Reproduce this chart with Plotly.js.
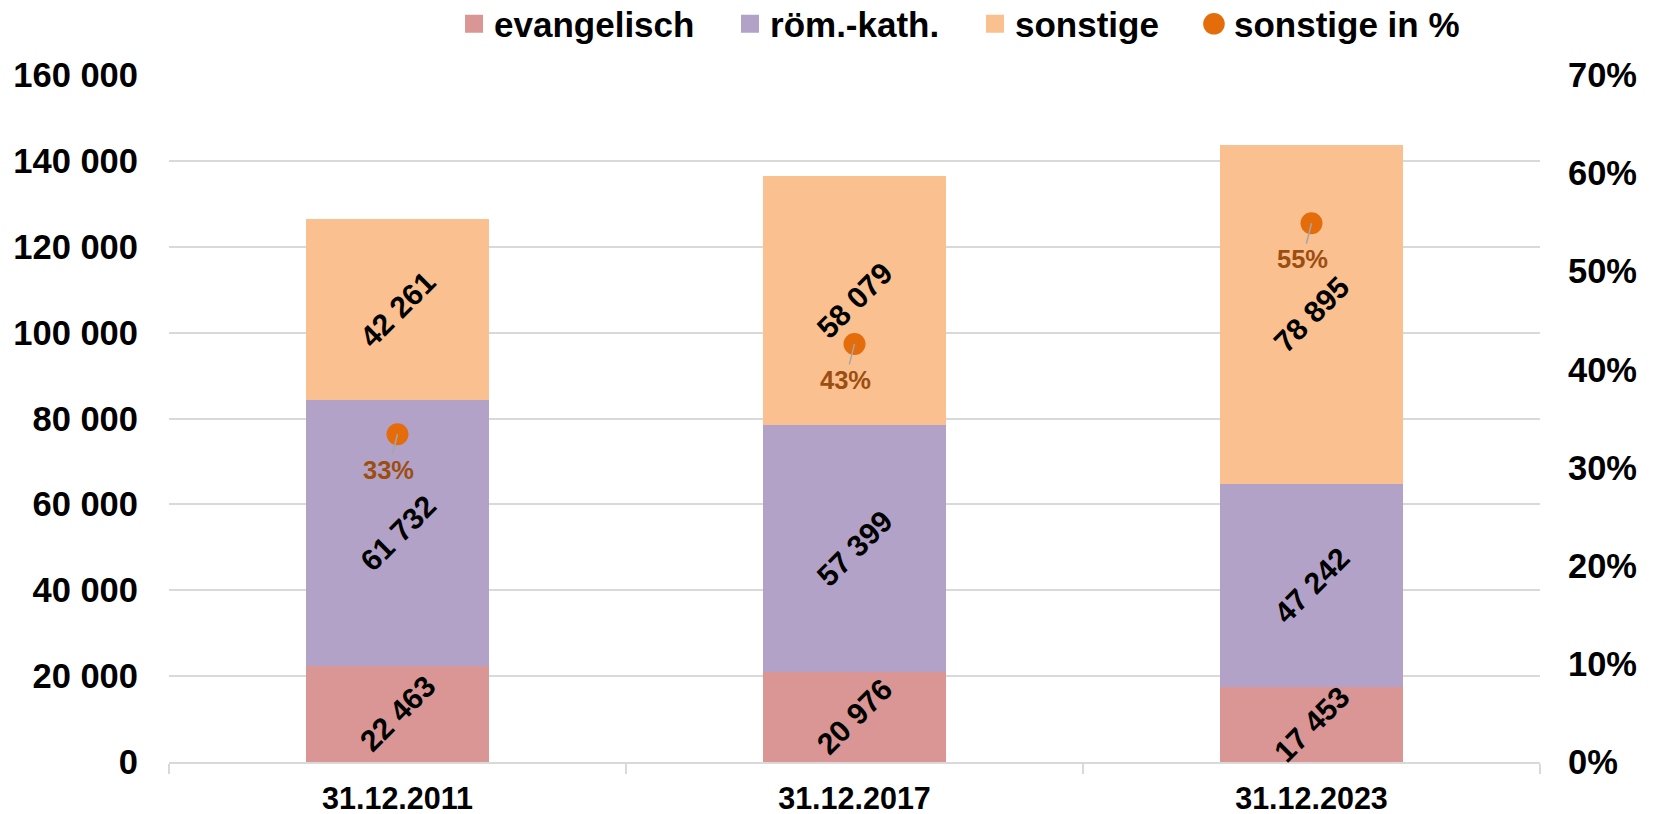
<!DOCTYPE html>
<html>
<head>
<meta charset="utf-8">
<script src="https://cdn.plot.ly/plotly-3.0.1.min.js"></script>
<style>html,body{margin:0;padding:0;background:#fff;}#chart{width:1654px;height:814px;}</style>
</head>
<body>
<div id="chart"></div>
<script>
// ---- data ----
const categories = ["31.12.2011", "31.12.2017", "31.12.2023"];
const evangelisch = [22463, 20976, 17453];
const roemKath = [61732, 57399, 47242];
const sonstige = [42261, 58079, 78895];
const sonstigePct = [0.334, 0.426, 0.549];
const pctLabels = ["33%", "43%", "55%"];
const seriesNames = ["evangelisch", "röm.-kath.", "sonstige", "sonstige in %"];

// ---- styles ----
const FONT = "Liberation Sans, Arial, sans-serif";
const colors = ["#D99694", "#B3A2C7", "#FAC090", "#E46C0A"];

function fmt(v) { return String(v).replace(/\B(?=(\d{3})+(?!\d))/g, " "); }

const barSeries = [evangelisch, roemKath, sonstige];
const legendIds = ["legend", "legend2", "legend3", "legend4"];

const traces = barSeries.map((vals, i) => ({
  type: "bar",
  name: seriesNames[i],
  x: categories,
  y: vals,
  marker: { color: colors[i], line: { width: 0 } },
  legend: legendIds[i],
  hoverinfo: "skip"
}));

traces.push({
  type: "scatter",
  mode: "markers",
  name: seriesNames[3],
  x: categories,
  y: sonstigePct,
  yaxis: "y2",
  marker: { color: colors[3], size: 22, symbol: "circle" },
  legend: legendIds[3],
  hoverinfo: "skip"
});

// value labels in the middle of each stacked segment
const annotations = [];
categories.forEach((c, j) => {
  let base = 0;
  barSeries.forEach((vals) => {
    annotations.push({
      x: c, y: base + vals[j] / 2, xref: "x", yref: "y",
      text: fmt(vals[j]), showarrow: false, textangle: -45,
      font: { family: FONT, size: 30, color: "#000000", weight: "bold" }
    });
    base += vals[j];
  });
  annotations.push({
    x: c, y: sonstigePct[j], xref: "x", yref: "y2",
    text: pctLabels[j],
    showarrow: true, arrowhead: 0, arrowwidth: 1.5, arrowcolor: "#A6A6A6",
    standoff: 0, ax: -9, ay: 36,
    font: { family: FONT, size: 25.5, color: "#9C4E10", weight: "bold" }
  });
});

const legendBase = {
  orientation: "h", yref: "container", yanchor: "middle", y: 0.9705, xanchor: "left",
  font: { family: FONT, size: 35, color: "#000000", weight: "bold" },
  bgcolor: "rgba(0,0,0,0)", borderwidth: 0
};
const legendX = [0.2079, 0.4092, 0.5879, 0.7476];

const layout = {
  width: 1654, height: 814,
  margin: { l: 169, r: 114, t: 75, b: 52, pad: 0 },
  paper_bgcolor: "#ffffff", plot_bgcolor: "#ffffff",
  separators: ", ",
  barmode: "stack",
  bargap: 0.6,
  hovermode: false,
  showlegend: true,
  font: { family: FONT, color: "#000000" },
  xaxis: {
    type: "category",
    tickson: "boundaries",
    ticks: "outside", ticklen: 10, tickwidth: 2, tickcolor: "#D9D9D9",
    showline: true, linecolor: "#D9D9D9", linewidth: 2,
    showgrid: false, zeroline: false,
    ticklabelstandoff: 8,
    tickfont: { family: FONT, size: 30.5, color: "#000000", weight: "bold" }
  },
  yaxis: {
    range: [0, 160000], dtick: 20000, tickformat: ",d",
    showgrid: true, gridcolor: "#D9D9D9", gridwidth: 2,
    zeroline: false, showline: false, ticks: "",
    ticklabelstandoff: 30,
    tickfont: { family: FONT, size: 34.5, color: "#000000", weight: "bold" }
  },
  yaxis2: {
    overlaying: "y", side: "right",
    range: [0, 0.7], dtick: 0.1, tickformat: ".0%",
    showgrid: false, zeroline: false, showline: false, ticks: "",
    ticklabelstandoff: 27,
    tickfont: { family: FONT, size: 34.5, color: "#000000", weight: "bold" }
  },
  annotations: annotations
};
legendIds.forEach((id, i) => { layout[id] = Object.assign({}, legendBase, { x: legendX[i] }); });

Plotly.newPlot("chart", traces, layout, { displayModeBar: false, staticPlot: true }).then((gd) => {
  // enlarge legend swatches to match the reference symbol size
  gd.querySelectorAll(".legendpoints path").forEach((p) => {
    const d = p.getAttribute("d") || "";
    if (d.indexOf("M6,6H-6V-6H6Z") === 0) {
      p.setAttribute("d", "M9,9H-9V-9H9Z");
    } else {
      const t = p.getAttribute("transform") || "";
      p.setAttribute("transform", t + " scale(1.35)");
    }
  });
});
</script>
</body>
</html>
